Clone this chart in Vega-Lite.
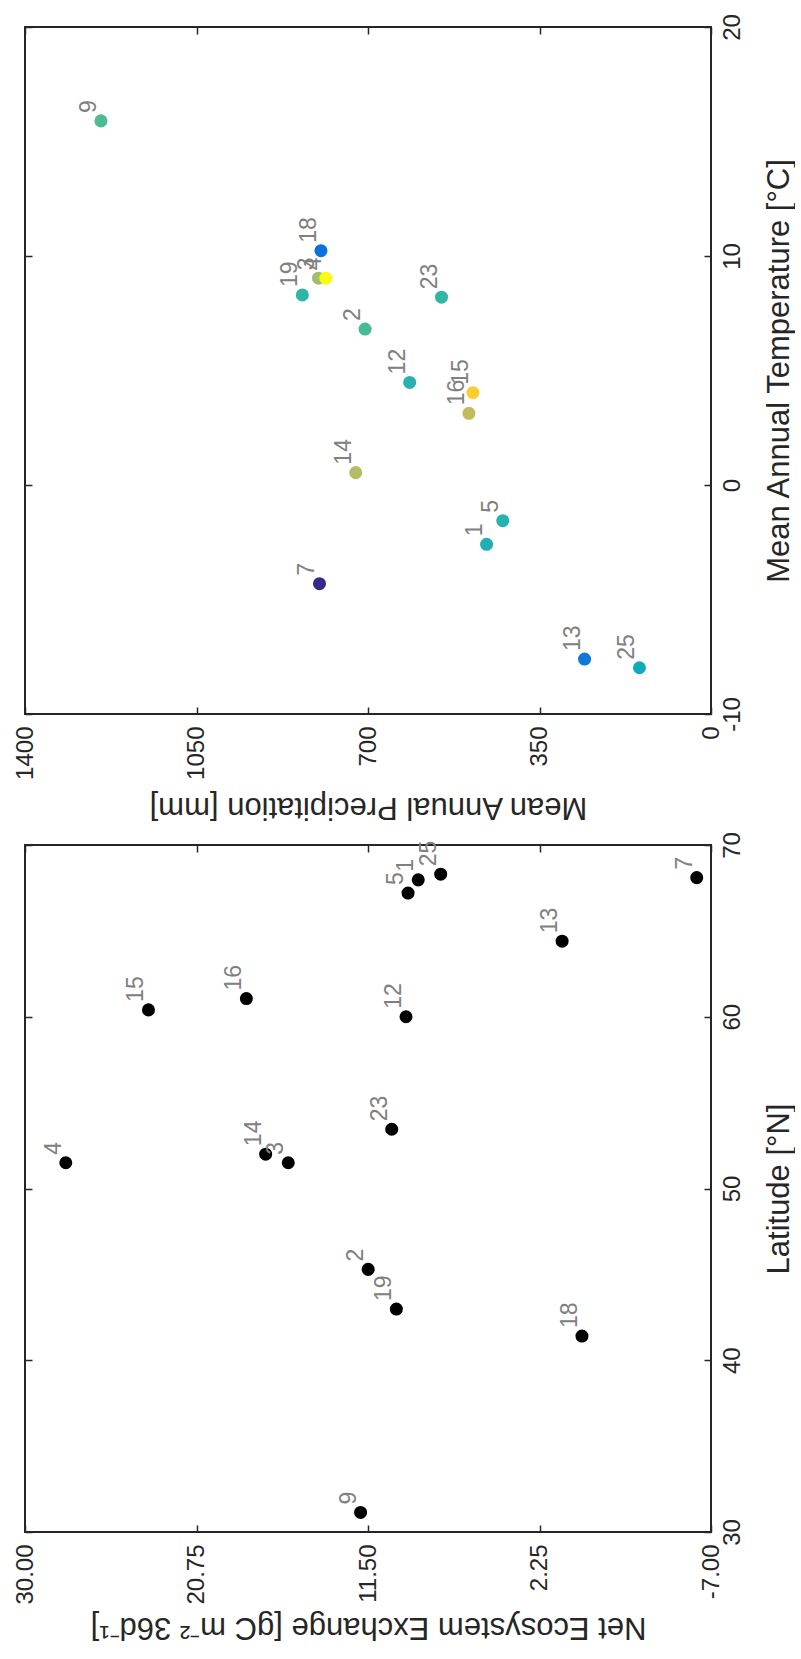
{
  "$schema": "https://vega.github.io/schema/vega-lite/v6.json",
  "background": "white",
  "padding": {"left": 12, "top": 12, "right": 0, "bottom": 6},
  "datasets": {
    "sites": [
      {"site": "1", "precip": 458, "temp": -2.59, "nee": 8.79, "lat": 67.97},
      {"site": "2", "precip": 706, "temp": 6.81, "nee": 11.49, "lat": 45.29},
      {"site": "3", "precip": 801, "temp": 9.03, "nee": 15.8, "lat": 51.5},
      {"site": "4", "precip": 786, "temp": 9.03, "nee": 27.8, "lat": 51.5},
      {"site": "5", "precip": 425, "temp": -1.56, "nee": 9.34, "lat": 67.2},
      {"site": "7", "precip": 799, "temp": -4.31, "nee": -6.23, "lat": 68.1},
      {"site": "9", "precip": 1245, "temp": 15.9, "nee": 11.9, "lat": 31.14},
      {"site": "12", "precip": 615, "temp": 4.48, "nee": 9.45, "lat": 60.0},
      {"site": "13", "precip": 258, "temp": -7.6, "nee": 1.03, "lat": 64.4},
      {"site": "14", "precip": 725, "temp": 0.54, "nee": 17.02, "lat": 52.0},
      {"site": "15", "precip": 486, "temp": 4.03, "nee": 23.34, "lat": 60.4},
      {"site": "16", "precip": 494, "temp": 3.13, "nee": 18.06, "lat": 61.06},
      {"site": "18", "precip": 796, "temp": 10.23, "nee": -0.04, "lat": 41.41},
      {"site": "19", "precip": 834, "temp": 8.3, "nee": 9.97, "lat": 42.98},
      {"site": "23", "precip": 550, "temp": 8.2, "nee": 10.22, "lat": 53.45},
      {"site": "25", "precip": 146, "temp": -7.98, "nee": 7.58, "lat": 68.3}
    ]
  },
  "vconcat": [
    {
      "width": 686,
      "height": 687,
      "data": {"name": "sites"},
      "layer": [
        {
          "mark": {"type": "circle", "size": 170, "opacity": 1},
          "encoding": {
            "x": {
              "field": "precip", "type": "quantitative",
              "scale": {"domain": [0, 1400], "reverse": true, "nice": false},
              "axis": {
                "orient": "bottom", "values": [0, 350, 700, 1050, 1400], "format": "d",
                "title": "Mean Annual Precipitation [mm]",
                "labelAngle": 270, "labelAlign": "right", "labelBaseline": "middle", "labelPadding": 19,
                "titleAngle": 180, "titleBaseline": "alphabetic", "titlePadding": 18
              }
            },
            "y": {
              "field": "temp", "type": "quantitative",
              "scale": {"domain": [-10, 20], "nice": false},
              "axis": {
                "orient": "right", "values": [-10, 0, 10, 20], "format": "d",
                "title": "Mean Annual Temperature [°C]",
                "labelAngle": 270, "labelAlign": "center", "labelBaseline": "top", "labelPadding": 16,
                "titleAngle": 270, "titleBaseline": "top", "titlePadding": 20
              }
            },
            "color": {
              "field": "nee", "type": "quantitative",
              "scale": {
                "zero": false, "nice": false, "interpolate": "rgb",
                "range": ["#352a87", "#0363e1", "#1481d6", "#06a4ca", "#38b99e", "#92bf73", "#d9ba56", "#fcce2e", "#f9fb0e"]
              },
              "legend": null
            }
          }
        },
        {
          "mark": {"type": "text", "angle": 270, "align": "left", "baseline": "alphabetic", "dx": 8, "dy": -5, "fontSize": 23, "color": "#808080"},
          "encoding": {
            "x": {
              "field": "precip", "type": "quantitative",
              "scale": {"domain": [0, 1400], "reverse": true, "nice": false},
              "axis": {"orient": "top", "values": [0, 350, 700, 1050, 1400], "labels": false, "title": null}
            },
            "y": {
              "field": "temp", "type": "quantitative",
              "scale": {"domain": [-10, 20], "nice": false},
              "axis": {"orient": "left", "values": [-10, 0, 10, 20], "labels": false, "title": null}
            },
            "text": {"field": "site", "type": "nominal"}
          }
        }
      ],
      "resolve": {"axis": {"x": "independent", "y": "independent"}}
    },
    {
      "width": 686,
      "height": 687,
      "data": {"name": "sites"},
      "layer": [
        {
          "mark": {"type": "circle", "size": 170, "opacity": 1, "color": "black"},
          "encoding": {
            "x": {
              "field": "nee", "type": "quantitative",
              "scale": {"domain": [-7, 30], "reverse": true, "nice": false},
              "axis": {
                "orient": "bottom", "values": [30, 20.75, 11.5, 2.25, -7], "format": ".2f",
                "title": "Net Ecosystem Exchange [gC m⁻² 36d⁻¹]",
                "labelAngle": 270, "labelAlign": "right", "labelBaseline": "middle", "labelPadding": 19,
                "titleAngle": 180, "titleBaseline": "alphabetic", "titlePadding": 13
              }
            },
            "y": {
              "field": "lat", "type": "quantitative",
              "scale": {"domain": [30, 70], "nice": false},
              "axis": {
                "orient": "right", "values": [30, 40, 50, 60, 70], "format": "d",
                "title": "Latitude [°N]",
                "labelAngle": 270, "labelAlign": "center", "labelBaseline": "top", "labelPadding": 16,
                "titleAngle": 270, "titleBaseline": "top", "titlePadding": 20
              }
            }
          }
        },
        {
          "mark": {"type": "text", "angle": 270, "align": "left", "baseline": "alphabetic", "dx": 8, "dy": -5, "fontSize": 23, "color": "#808080"},
          "encoding": {
            "x": {
              "field": "nee", "type": "quantitative",
              "scale": {"domain": [-7, 30], "reverse": true, "nice": false},
              "axis": {"orient": "top", "values": [30, 20.75, 11.5, 2.25, -7], "labels": false, "title": null}
            },
            "y": {
              "field": "lat", "type": "quantitative",
              "scale": {"domain": [30, 70], "nice": false},
              "axis": {"orient": "left", "values": [30, 40, 50, 60, 70], "labels": false, "title": null}
            },
            "text": {"field": "site", "type": "nominal"}
          }
        }
      ],
      "resolve": {"axis": {"x": "independent", "y": "independent"}}
    }
  ],
  "spacing": 131,
  "bounds": "flush",
  "config": {
    "font": "Liberation Sans",
    "locale": {
      "number": {"decimal": ".", "thousands": "", "grouping": [3], "currency": ["", ""], "minus": "-"}
    },
    "view": {"stroke": "#262626", "strokeWidth": 2},
    "axis": {
      "domain": false,
      "grid": false,
      "ticks": true,
      "tickSize": -7,
      "tickColor": "#262626",
      "tickWidth": 1.5,
      "labelFont": "Liberation Sans",
      "labelFontSize": 24,
      "labelColor": "#262626",
      "labelFlush": false,
      "labelOverlap": false,
      "titleFont": "Liberation Sans",
      "titleFontSize": 31,
      "titleFontWeight": "normal",
      "titleColor": "#262626"
    }
  }
}
